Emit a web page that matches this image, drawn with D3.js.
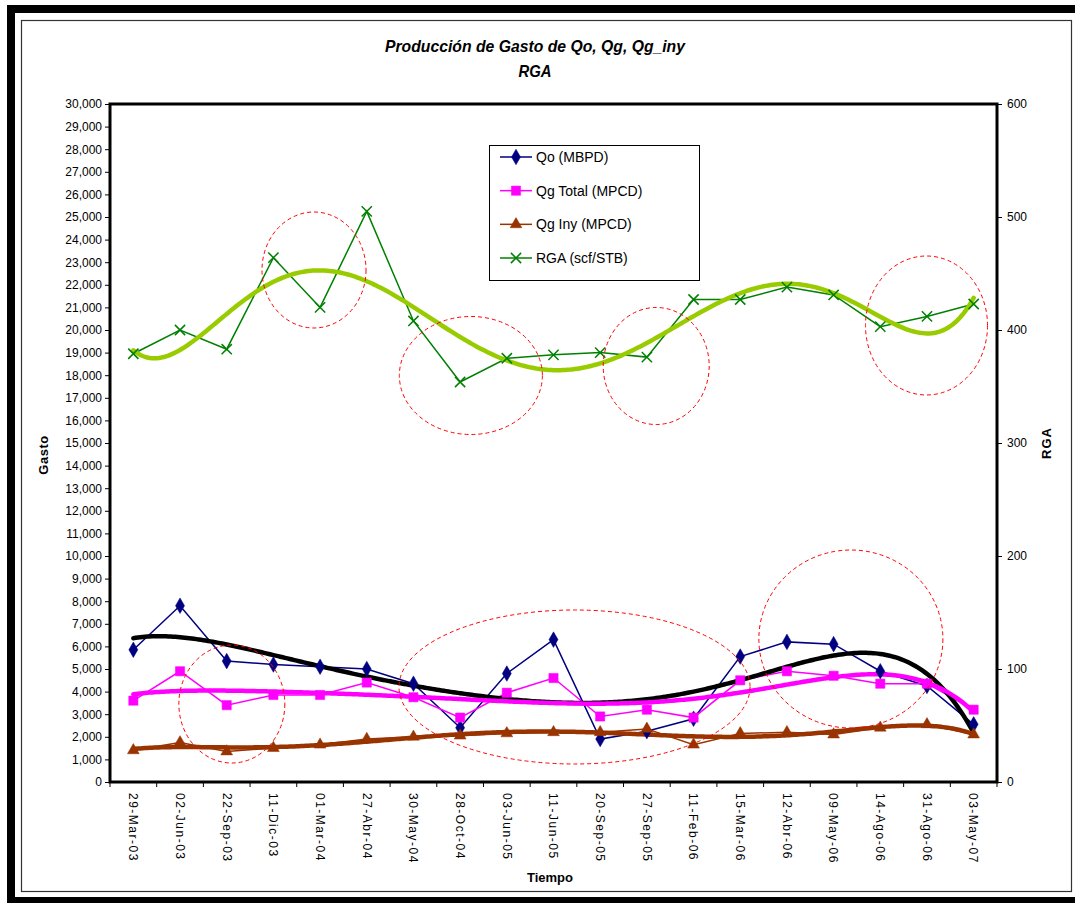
<!DOCTYPE html>
<html><head><meta charset="utf-8">
<script src="https://cdn.jsdelivr.net/npm/d3@7"></script>
<style>
body{margin:0;background:#fff}
svg{display:block}
text{font-family:Arial,"Liberation Sans",sans-serif;fill:#000}
</style>
</head><body><svg id="c" width="1075" height="903"></svg>
<script>
// ---------- data ----------
const categories = ["29-Mar-03","02-Jun-03","22-Sep-03","11-Dic-03","01-Mar-04","27-Abr-04","30-May-04","28-Oct-04","03-Jun-05","11-Jun-05","20-Sep-05","27-Sep-05","11-Feb-06","15-Mar-06","12-Abr-06","09-May-06","14-Ago-06","31-Ago-06","03-May-07"];
const qo      = [5850,7800,5350,5200,5100,5000,4350,2400,4800,6300,1900,2250,2800,5550,6200,6100,4900,4250,2550];
const qgTotal = [3600,4900,3400,3850,3850,4400,3750,2850,3950,4600,2900,3200,2850,4500,4900,4700,4350,4350,3200];
const qgIny   = [1400,1750,1350,1500,1650,1900,2000,2050,2150,2200,2200,2350,1650,2150,2200,2100,2400,2550,2100];
const rga     = [379,400,383,464,420,505,408,354,375,378,380,376,427,427,438,431,403,412,423];
const leftTicks  = d3.range(0, 30001, 1000);
const rightTicks = d3.range(0, 601, 100);
const seriesNames = ["Qo (MBPD)","Qg Total (MPCD)","Qg Iny (MPCD)","RGA (scf/STB)"];
const trendOrder = 6;
// dashed annotation ellipses: centre (category index, Gasto value), radii (categories, Gasto)
const annIdx  = [3.87, 7.23, 11.20, 16.99, 2.11, 9.45, 15.37];
const annVal  = [22655, 17987, 18407, 20199, 3451, 4204, 6327];
const annRIdx = [1.114, 1.532, 1.135, 1.307, 1.135, 3.76, 1.971];
const annRVal = [2566, 2611, 2589, 3075, 2611, 3407, 3938];

// ---------- layout ----------
const svg = d3.select("#c");
const L = 110, R = 997, T = 104, B = 782;

// frame
svg.append("rect").attr("x",7).attr("y",5).attr("width",1100).attr("height",898).attr("fill","#000");
svg.append("rect").attr("x",15).attr("y",13).attr("width",1100).attr("height",884).attr("fill","#fff");
svg.append("rect").attr("x",21.5).attr("y",20.5).attr("width",1050).attr("height",871).attr("fill","none").attr("stroke","#333").attr("stroke-width",1.2);

const x = d3.scaleBand().domain(categories).range([L, R]).padding(0);
const bw = x.bandwidth();
const xi = d3.scaleLinear().domain([0, categories.length-1]).range([x(categories[0])+bw/2, x(categories[categories.length-1])+bw/2]);
const yL = d3.scaleLinear().domain([0, 30000]).range([B, T]);
const yR = d3.scaleLinear().domain([0, 600]).range([B, T]);

// title
const title = svg.append("g").attr("font-weight","bold").attr("font-style","italic").attr("font-size",17);
title.append("text").attr("x",535).attr("y",52).attr("text-anchor","middle")
  .attr("textLength",300).attr("lengthAdjust","spacingAndGlyphs").text("Producción de Gasto de Qo, Qg, Qg_iny");
title.append("text").attr("x",535).attr("y",77).attr("text-anchor","middle")
  .attr("textLength",33).attr("lengthAdjust","spacingAndGlyphs").text("RGA");

// axes
const axL = svg.append("g").attr("transform",`translate(${L},0)`)
  .call(d3.axisLeft(yL).tickValues(leftTicks).tickFormat(d3.format(",")).tickSize(5).tickPadding(3));
const axR = svg.append("g").attr("transform",`translate(${R},0)`)
  .call(d3.axisRight(yR).tickValues(rightTicks).tickSize(5).tickPadding(5));
const axB = svg.append("g").attr("transform",`translate(0,${B})`)
  .call(d3.axisBottom(x).tickSize(0).tickFormat(""));
[axL,axR,axB].forEach(a=>{
  a.select(".domain").remove();
  a.selectAll("text").attr("font-size",12).attr("font-family","Arial, 'Liberation Sans', sans-serif").attr("fill","#000");
  a.selectAll("line").attr("stroke","#000");
});
// x ticks at band boundaries
const bounds = categories.map(c=>x(c)).concat([R]);
svg.append("g").selectAll("line").data(bounds).join("line")
  .attr("x1",d=>d).attr("x2",d=>d).attr("y1",B).attr("y2",B+5).attr("stroke","#000");
// x labels
svg.append("g").selectAll("text").data(categories).join("text")
  .attr("transform",d=>`translate(${x(d)+bw/2},793) rotate(90)`)
  .attr("dy","0.35em").attr("font-size",12).attr("letter-spacing","1.5px").text(d=>d);

// axis titles
svg.append("text").attr("transform","translate(48,455) rotate(-90)").attr("text-anchor","middle")
  .attr("font-weight","bold").attr("font-size",13).attr("letter-spacing","0.5px").text("Gasto");
svg.append("text").attr("transform","translate(1051,443) rotate(-90)").attr("text-anchor","middle")
  .attr("font-weight","bold").attr("font-size",13).attr("letter-spacing","1px").text("RGA");
svg.append("text").attr("x",550).attr("y",882).attr("text-anchor","middle")
  .attr("font-weight","bold").attr("font-size",13).text("Tiempo");

// ---------- trend ----------
function polyFit(ys, order){
  const n = ys.length, m = order+1;
  const mx = (n+1)/2, sx = (n-1)/2;
  const A = Array.from({length:m},()=>new Array(m+1).fill(0));
  for(let k=0;k<n;k++){
    const t = (k+1-mx)/sx; const p=[];
    for(let j=0;j<m;j++) p.push(Math.pow(t,j));
    for(let r=0;r<m;r++){ for(let c=0;c<m;c++) A[r][c]+=p[r]*p[c]; A[r][m]+=p[r]*ys[k]; }
  }
  for(let i=0;i<m;i++){
    let piv=i; for(let r=i+1;r<m;r++) if(Math.abs(A[r][i])>Math.abs(A[piv][i])) piv=r;
    [A[i],A[piv]]=[A[piv],A[i]];
    for(let r=0;r<m;r++){ if(r===i) continue; const f=A[r][i]/A[i][i]; for(let c=i;c<=m;c++) A[r][c]-=f*A[i][c]; }
  }
  const coef = A.map((row,i)=>row[m]/row[i]);
  return xx => { const t=(xx-mx)/sx; let s=0; for(let j=m-1;j>=0;j--) s=s*t+coef[j]; return s; };
}
const samples = d3.range(0, categories.length-1+0.0001, 0.05);

const series = [
  {vals:qo, y:yL, color:"#000080", trend:"#000000", sym:d3.symbolDiamond, size:70, fill:true},
  {vals:qgTotal, y:yL, color:"#FF00FF", trend:"#FF00FF", sym:d3.symbolSquare, size:85, fill:true},
  {vals:qgIny, y:yL, color:"#993300", trend:"#993300", sym:d3.symbolTriangle, size:60, fill:true},
  {vals:rga, y:yR, color:"#008000", trend:"#99CC00", sym:(d3.symbolTimes||d3.symbolCross), size:70, fill:false}
];
const plot = svg.append("g");
// data lines
series.forEach(s=>{
  plot.append("path").datum(s.vals)
    .attr("d", d3.line().x((d,i)=>xi(i)).y(d=>s.y(d)))
    .attr("fill","none").attr("stroke",s.color).attr("stroke-width",1.5);
});
// trend lines
series.forEach(s=>{
  const f = polyFit(s.vals, trendOrder);
  plot.append("path").datum(samples)
    .attr("d", d3.line().x(t=>xi(t)).y(t=>s.y(f(t+1))))
    .attr("fill","none").attr("stroke",s.trend).attr("stroke-width",4.5).attr("stroke-linecap","round");
});
// markers
series.forEach(s=>{
  const sym = d3.symbol().type(s.sym).size(s.size);
  plot.append("g").selectAll("path").data(s.vals).join("path")
    .attr("transform",(d,i)=>`translate(${xi(i)},${s.y(d)})`)
    .attr("d", sym)
    .attr("fill", s.fill ? s.color : "none")
    .attr("stroke", s.color).attr("stroke-width", s.fill?0.5:1.5);
});

// plot border
svg.append("rect").attr("x",L).attr("y",T).attr("width",R-L).attr("height",B-T)
  .attr("fill","none").attr("stroke","#000").attr("stroke-width",3);

// annotations
const pxPerIdx = xi(1)-xi(0);
svg.append("g").selectAll("ellipse").data(annIdx).join("ellipse")
  .attr("cx",(d)=>xi(d)).attr("cy",(d,i)=>yL(annVal[i]))
  .attr("rx",(d,i)=>annRIdx[i]*pxPerIdx).attr("ry",(d,i)=>yL(0)-yL(annRVal[i]))
  .attr("fill","none").attr("stroke","#FF0000").attr("stroke-width",1).attr("stroke-dasharray","4,3");

// legend
const lg = svg.append("g");
lg.append("rect").attr("x",489.5).attr("y",145.5).attr("width",210).attr("height",135)
  .attr("fill","#fff").attr("stroke","#000").attr("stroke-width",1);
const ly = d3.scaleLinear().domain([0,3]).range([157,258]);
series.forEach((s,i)=>{
  const g = lg.append("g").attr("transform",`translate(0,${ly(i)})`);
  g.append("line").attr("x1",500).attr("x2",532).attr("y1",0).attr("y2",0).attr("stroke",s.color).attr("stroke-width",1.5);
  g.append("path").attr("transform","translate(516,0)").attr("d",d3.symbol().type(s.sym).size(s.size)())
    .attr("fill", s.fill ? s.color : "none").attr("stroke",s.color).attr("stroke-width", s.fill?0.5:1.5);
  g.append("text").attr("x",536).attr("y",0).attr("dy","0.35em").attr("font-size",14).text(seriesNames[i]);
});
</script>
</body></html>
